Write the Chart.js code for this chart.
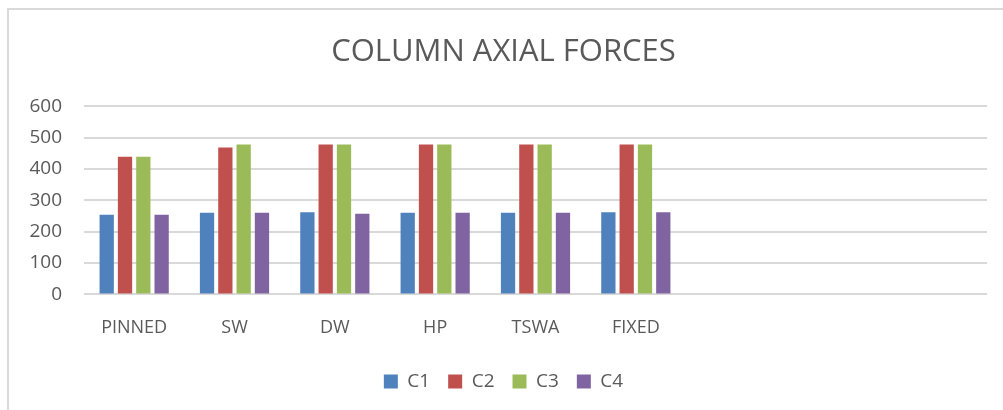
<!DOCTYPE html>
<html>
<head>
<meta charset="utf-8">
<script src="https://cdn.jsdelivr.net/npm/chart.js@4"></script>
<style>
  html, body { margin: 0; padding: 0; background: #fff; }
  #wrap { width: 1003px; height: 410px; position: relative; }
</style>
</head>
<body>
<div id="wrap"><canvas id="myChart"></canvas></div>
<script>
// Categories (Excel keeps 3 empty slots on the right)
var categories = ["PINNED", "SW", "DW", "HP", "TSWA", "FIXED", "", "", ""];
var seriesNames = ["C1", "C2", "C3", "C4"];

// Values
var c1 = [254, 260, 262, 260, 260, 262];
var c2 = [439, 468, 478, 478, 478, 478];
var c3 = [439, 478, 478, 478, 478, 478];
var c4 = [254, 260, 257, 260, 260, 262];

var yTicks = [0, 100, 200, 300, 400, 500, 600];

var colors = ["#4f81bd", "#c0504d", "#9bbb59", "#8064a2"];
var textColor = "#595959";
var gridColor = "#d9d9d9";

// Outer chart frame (only top and left visible in the crop)
var framePlugin = {
    id: "frame",
    beforeDraw: function (chart) {
        var ctx = chart.ctx;
        ctx.save();
        ctx.strokeStyle = gridColor;
        ctx.lineWidth = 2;
        ctx.beginPath();
        ctx.moveTo(8, 410);
        ctx.lineTo(8, 9);
        ctx.lineTo(1003, 9);
        ctx.stroke();
        ctx.restore();
    },
};

var data = {
    labels: categories,
    datasets: [
        { label: seriesNames[0], data: c1, backgroundColor: colors[0] },
        { label: seriesNames[1], data: c2, backgroundColor: colors[1] },
        { label: seriesNames[2], data: c3, backgroundColor: colors[2] },
        { label: seriesNames[3], data: c4, backgroundColor: colors[3] },
    ],
};

var options = {
    responsive: true,
    maintainAspectRatio: false,
    animation: false,
    categoryPercentage: 0.73,
    barPercentage: 0.78,
    layout: {
        padding: { left: 20, right: 16, top: 28, bottom: 9 },
    },
    plugins: {
        title: {
            display: true,
            text: "COLUMN AXIAL FORCES",
            color: textColor,
            font: { family: "Open Sans", size: 31, weight: "normal" },
            padding: { top: 6, bottom: 35 },
        },
        legend: {
            position: "bottom",
            labels: {
                color: textColor,
                font: { family: "Open Sans", size: 19 },
                boxWidth: 14,
                boxHeight: 14,
                padding: 18,
            },
        },
        tooltip: { enabled: false },
    },
    scales: {
        x: {
            grid: { display: false },
            border: { display: false },
            ticks: {
                color: textColor,
                font: { family: "Open Sans", size: 18 },
                padding: 15,
                maxRotation: 0,
                autoSkip: false,
            },
        },
        y: {
            min: 0,
            max: 600,
            afterBuildTicks: function (scale) {
                scale.ticks = yTicks.map(function (v) { return { value: v }; });
            },
            afterFit: function (scale) {
                scale.width = 64;
            },
            grid: { color: gridColor, lineWidth: 2, drawTicks: false },
            border: { display: false },
            ticks: {
                color: textColor,
                font: { family: "Open Sans", size: 19 },
                padding: 22,
            },
        },
    },
};

var ctx = document.getElementById("myChart").getContext("2d");
var myChart = new Chart(ctx, {
    type: "bar",
    data: data,
    options: options,
    plugins: [framePlugin],
});
</script>
</body>
</html>
